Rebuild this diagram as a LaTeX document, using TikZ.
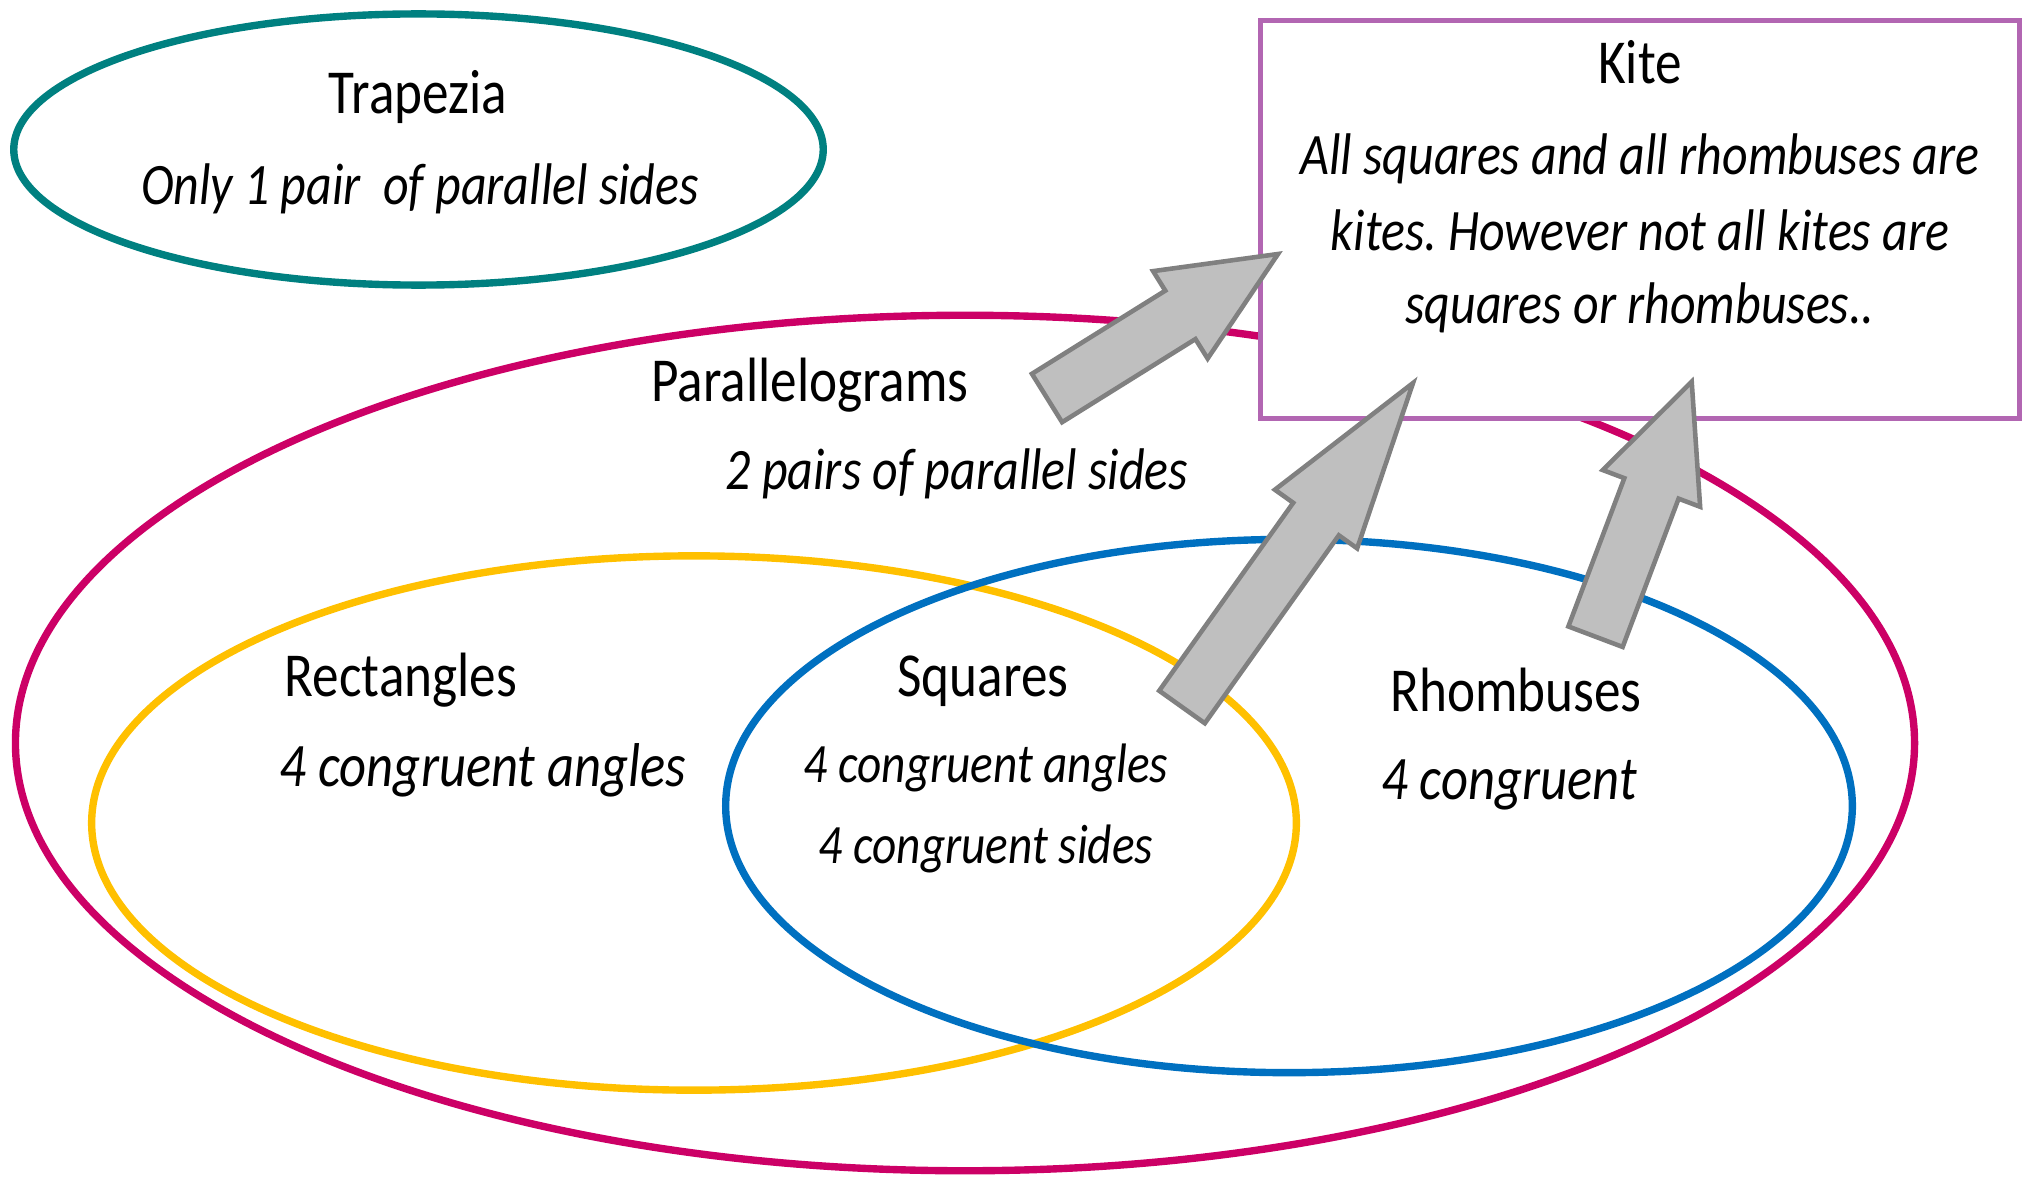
\documentclass[tikz,border=0pt]{standalone}
\usepackage{fontspec}
\setmainfont{Carlito}
\newfontfamily\handfont[FakeStretch=0.85]{Carlito}
\usetikzlibrary{shapes.geometric,calc}
\definecolor{trapcol}{RGB}{0,128,128}
\definecolor{paracol}{RGB}{204,0,102}
\definecolor{rectcol}{RGB}{255,192,0}
\definecolor{rhombcol}{RGB}{0,112,192}
\definecolor{kitecol}{RGB}{178,102,178}
\definecolor{arrfill}{RGB}{191,191,191}
\definecolor{arrline}{RGB}{128,128,128}
\frenchspacing
% block arrow: tail, tip, half shaft, half head, head length
\newcommand{\fatarrow}[5]{%
  \coordinate (#1-b) at ($(#2)!#5!(#1)$);
  \draw[fatarr] ($(#1)!#3!90:(#2)$) -- ($(#1-b)!#3!90:(#2)$) -- ($(#1-b)!#4!90:(#2)$)
    -- (#2) -- ($(#1-b)!#4!-90:(#2)$) -- ($(#1-b)!#3!-90:(#2)$) -- ($(#1)!#3!-90:(#2)$) -- cycle;
}
\begin{document}
\begin{tikzpicture}[x=0.01cm, y=-0.01cm,
  oval/.style={draw, ellipse, line width=2.1pt, inner sep=0pt},
  title/.style={anchor=base, font=\handfont\fontsize{17.8}{21}\selectfont},
  body/.style={anchor=base, font=\handfont\itshape\fontsize{16.7}{21}\selectfont},
  bodybig/.style={body, font=\handfont\itshape\fontsize{17.6}{21}\selectfont},
  bodysmall/.style={body, font=\handfont\itshape\fontsize{15.8}{21}\selectfont},
  fatarr/.style={draw=arrline, fill=arrfill, line width=1.3pt, line join=miter},
]
\useasboundingbox (0,0) rectangle (2028,1176);
\node[oval, draw=paracol, minimum width=18.98cm, minimum height=8.55cm] (para) at (965,743) {};
\node[oval, draw=rectcol, minimum width=12.04cm, minimum height=5.34cm] (rect) at (694,823) {};
\node[oval, draw=rhombcol, minimum width=11.26cm, minimum height=5.33cm] (rhomb) at (1289,806) {};
\node[oval, draw=trapcol, minimum width=8.09cm, minimum height=2.71cm] (trap) at (418.5,149.5) {};
\node[draw=kitecol, fill=white, line width=1.4pt, inner sep=0pt, minimum width=7.58cm, minimum height=3.97cm] (kite) at (1640,219.5) {};

\node[title] (traptitle) at (418,114) {Trapezia};
\node[body] (trapnote) at (420,204) {Only 1 pair\ \ of parallel sides};
\node[title] (kitetitle) at (1640,84) {Kite};
\node[body] (kitenote1) at (1640,175) {All squares and all rhombuses are};
\node[body] (kitenote2) at (1640,250) {kites. However not all kites are};
\node[body] (kitenote3) at (1640,323) {squares or rhombuses..};
\node[title] (paratitle) at (810,401) {Parallelograms};
\node[body] (paranote) at (957,489) {2 pairs of parallel sides};
\node[title] (recttitle) at (401,696) {Rectangles};
\node[bodybig] (rectnote) at (483,786) {4 congruent angles};
\node[title] (sqtitle) at (983,696) {Squares};
\node[bodysmall] (sqnote1) at (986,782) {4 congruent angles};
\node[bodysmall] (sqnote2) at (986,863) {4 congruent sides};
\node[title] (rhtitle) at (1516,711) {Rhombuses};
\node[bodybig] (rhnote) at (1509,799) {4 congruent};

\coordinate (pfrom) at (1047,398);
\coordinate (pto) at (1278,254);
\coordinate (sfrom) at (1182,707);
\coordinate (sto) at (1413,383);
\coordinate (rfrom) at (1595.5,636.7);
\coordinate (rto) at (1691.7,381.7);
\fatarrow{pfrom}{pto}{0.285cm}{0.515cm}{1.15cm}
\fatarrow{sfrom}{sto}{0.28cm}{0.505cm}{1.67cm}
\fatarrow{rfrom}{rto}{0.29cm}{0.52cm}{1.14cm}
\end{tikzpicture}
\end{document}
